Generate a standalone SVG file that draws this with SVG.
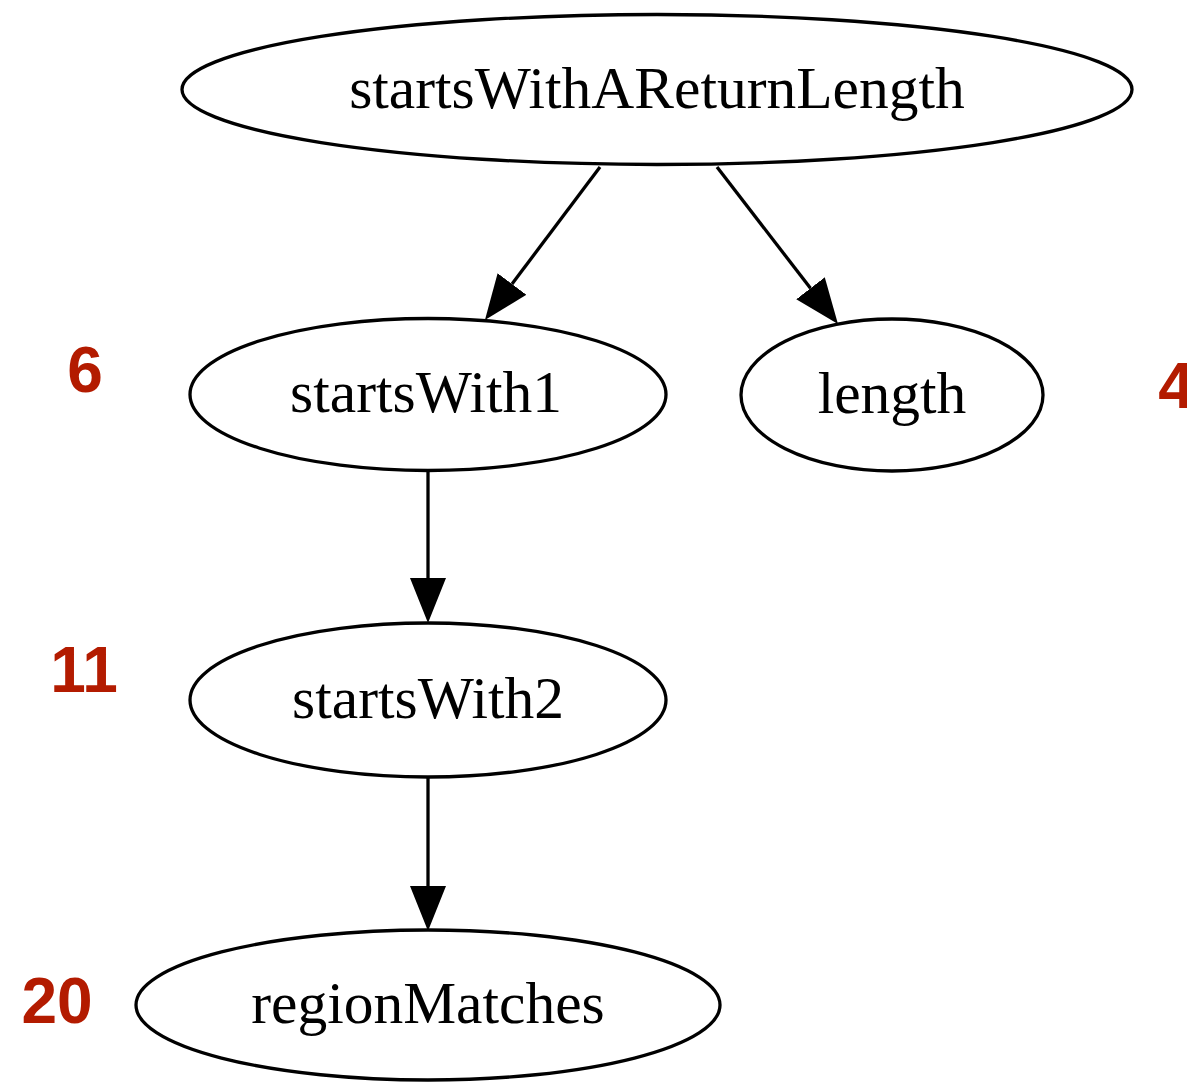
<svg xmlns="http://www.w3.org/2000/svg" width="1187" height="1084" viewBox="0 0 1187 1084">
<style>
.node ellipse{fill:#fff;stroke:#000;stroke-width:3.3}
.node text{font-family:"Liberation Serif","Times New Roman",serif;font-size:59.5px;fill:#000;text-anchor:middle}
.edge{stroke:#000;stroke-width:3.3;fill:none}
.num{font-family:"Liberation Sans",Arial,sans-serif;font-weight:bold;font-size:64px;fill:#b31b00;text-anchor:middle}
</style>
<defs>
<marker id="arr" viewBox="0 0 45 36" refX="0" refY="18" markerWidth="45" markerHeight="36" markerUnits="userSpaceOnUse" orient="auto">
<path d="M0,0 L45,18 L0,36 Z" fill="#000"/>
</marker>
</defs>
<rect width="1187" height="1084" fill="#fff"/>
<g id="connectors">
<line class="edge" x1="600" y1="167" x2="512" y2="284" marker-end="url(#arr)"/>
<line class="edge" x1="717" y1="167" x2="810.5" y2="288.3" marker-end="url(#arr)"/>
<line class="edge" x1="428" y1="472" x2="428" y2="578" marker-end="url(#arr)"/>
<line class="edge" x1="428" y1="778" x2="428" y2="886" marker-end="url(#arr)"/>
</g>
<g id="node-startsWithAReturnLength" class="node">
<ellipse cx="657" cy="89.5" rx="475" ry="75"/>
<text x="657" y="108">startsWithAReturnLength</text>
</g>
<g id="node-startsWith1" class="node">
<ellipse cx="428" cy="394.5" rx="238" ry="76"/>
<text x="426" y="412">startsWith1</text>
</g>
<g id="node-length" class="node">
<ellipse cx="892" cy="395" rx="151" ry="76"/>
<text x="892" y="413">length</text>
</g>
<g id="node-startsWith2" class="node">
<ellipse cx="428" cy="700" rx="238" ry="77"/>
<text x="428" y="718">startsWith2</text>
</g>
<g id="node-regionMatches" class="node">
<ellipse cx="428" cy="1005" rx="292" ry="75"/>
<text x="428" y="1023">regionMatches</text>
</g>
<g id="labels">
<text class="num" x="85" y="392">6</text>
<text class="num" x="1176" y="408">4</text>
<text class="num" x="84" y="692">11</text>
<text class="num" x="57" y="1023">20</text>
</g>
</svg>
